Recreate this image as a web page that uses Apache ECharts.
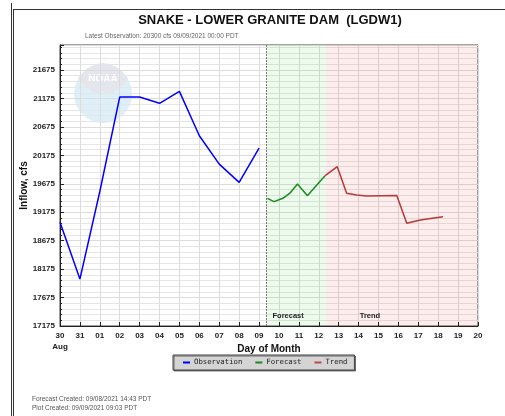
<!DOCTYPE html>
<html>
<head>
<meta charset="utf-8">
<script src="https://cdn.jsdelivr.net/npm/echarts@6/dist/echarts.min.js"></script>
<style>html,body{margin:0;padding:0;background:#fff;}#c{width:505px;height:416px;}</style>
</head>
<body>
<div id="c"></div>
<script>
// ---- data (x = days since 30 Aug 00:00) ----
const dayLabels = ['30','31','01','02','03','04','05','06','07','08','09','10','11','12','13','14','15','16','17','18','19','20'];
const yTickMin = 17175, yTickStep = 500, yMax = 22115;
const obsX = [0,1,2,3,4,5,6,7,8,9,10];
const obsY = [19000,18000,19540,21200,21200,21090,21300,20520,20020,19700,20300];
const fcstX = [10.42,10.75,11.2,11.55,11.93,12.43,12.9,13.32];
const fcstY = [19420,19361,19420,19510,19670,19466,19654,19818];
const trendX = [13.32,13.93,14.4,14.9,15.4,16.92,17.42,18.1,19.24];
const trendY = [19818,19976,19508,19478,19460,19470,18980,19040,19097];
const forecastStart = 10.375, trendStart = 13.35, axisEnd = 21;

const zip = (xs, ys) => xs.map((x, i) => [x, ys[i]]);
const chart = echarts.init(document.getElementById('c'), null, {renderer: 'canvas'});
const F = 'Liberation Sans, Arial, sans-serif';
chart.setOption({
  animation: false,
  backgroundColor: '#fff',
  title: [
    {text: 'SNAKE - LOWER GRANITE DAM  (LGDW1)', left: 265, top: 9, textAlign: 'center',
     textStyle: {fontFamily: F, fontSize: 13, fontWeight: 'bold', color: '#111'}},
    {text: 'Latest Observation: 20300 cfs 09/09/2021 00:00 PDT', left: 85, top: 33, padding: 0,
     textStyle: {fontFamily: F, fontSize: 6.5, fontWeight: 'normal', color: '#666'}},
    {text: 'Forecast Created: 09/08/2021 14:43 PDT\nPlot Created: 09/09/2021 09:03 PDT', left: 32, top: 395, padding: 0,
     textStyle: {fontFamily: F, fontSize: 6.5, fontWeight: 'normal', color: '#555', lineHeight: 9}}
  ],
  grid: {left: 60, right: 27, top: 45, bottom: 90, show: true, borderColor: '#444', borderWidth: 1, backgroundColor: 'transparent'},
  graphic: [
    {type: 'line', shape: {x1: 11.5, y1: 3, x2: 11.5, y2: 416}, style: {stroke: '#333', lineWidth: 1}, silent: true},
    {type: 'line', shape: {x1: 13.5, y1: 9, x2: 13.5, y2: 416}, style: {stroke: '#333', lineWidth: 1}, silent: true},
    {type: 'line', shape: {x1: 13.5, y1: 9.5, x2: 505, y2: 9.5}, style: {stroke: '#333', lineWidth: 1}, silent: true},
    {type: 'circle', shape: {cx: 103, cy: 94, r: 29}, style: {fill: '#ddf0f9'}, silent: true, z: 0},
    {type: 'polygon', shape: {points: [[78,78],[86,69],[96,64],[103,63],[110,64],[120,69],[128,78],[122,86],[114,92],[108,94],[103,91],[98,94],[92,92],[84,86]]},
     style: {fill: '#e4e6ee'}, silent: true, z: 0},
    {type: 'text', style: {text: 'NOAA', x: 103, y: 74, fill: '#ffffff', font: 'bold 10px Liberation Sans', textAlign: 'center'}, silent: true, z: 0}
  ],
  legend: {
    data: ['Observation', 'Forecast', 'Trend'], left: 173, top: 355, orient: 'horizontal',
    icon: 'rect', itemWidth: 7, itemHeight: 2, itemGap: 13,
    backgroundColor: '#d4d4d4', borderColor: '#444', borderWidth: 1, padding: [4, 7, 4, 10],
    shadowColor: 'rgba(0,0,0,0.5)', shadowOffsetX: 1, shadowOffsetY: 1,
    textStyle: {fontFamily: 'DejaVu Sans Mono, monospace', fontSize: 7.3, color: '#222', padding: [0, 0, 0, -1]}
  },
  xAxis: {
    type: 'value', min: 0, max: axisEnd, interval: 1,
    name: 'Day of Month', nameLocation: 'middle', nameGap: 18, nameMoveOverlap: false,
    nameTextStyle: {fontFamily: F, fontSize: 10, fontWeight: 'bold', color: '#111'},
    axisLine: {show: true, lineStyle: {color: '#222'}},
    axisTick: {show: true, inside: true, length: 4, lineStyle: {color: '#222'}},
    axisLabel: {fontFamily: F, fontSize: 8, fontWeight: 'bold', color: '#222', margin: 4, lineHeight: 11,
      formatter: v => { const i = Math.round(v); return i === 0 ? dayLabels[0] + '\nAug' : (dayLabels[i] || ''); }},
    splitLine: {show: true, lineStyle: {color: '#dcdcdc'}}
  },
  yAxis: {
    type: 'value', min: yTickMin, max: yMax, interval: yTickStep,
    name: 'Inflow, cfs', nameLocation: 'middle', nameGap: 31, nameMoveOverlap: false,
    nameTextStyle: {fontFamily: F, fontSize: 10, fontWeight: 'bold', color: '#111'},
    axisLine: {show: true, lineStyle: {color: '#222'}},
    axisTick: {show: true, inside: true, length: 4, lineStyle: {color: '#222'}},
    minorTick: {show: true, splitNumber: 5, length: 2, lineStyle: {color: '#222'}},
    axisLabel: {fontFamily: F, fontSize: 8, fontWeight: 'bold', color: '#222', margin: 5, showMaxLabel: false,
      formatter: v => (v - yTickMin) % yTickStep === 0 ? String(v) : ''},
    splitLine: {show: true, lineStyle: {color: '#dcdcdc'}},
    minorSplitLine: {show: true, lineStyle: {color: '#e6e6e6'}}
  },
  series: [
    {name: 'Observation', type: 'line', data: zip(obsX, obsY), showSymbol: false, symbol: 'none', z: 5,
     lineStyle: {color: '#0000ff', width: 1.5}, itemStyle: {color: '#0000ff'},
     markArea: {silent: true, data: [
       [{xAxis: forecastStart, itemStyle: {color: 'rgba(0,200,0,0.07)'},
         label: {show: true, position: 'insideBottomLeft', distance: 0, offset: [6, -6], formatter: 'Forecast',
                 fontFamily: F, fontSize: 7.5, fontWeight: 'bold', color: '#222'}}, {xAxis: trendStart}],
       [{xAxis: trendStart, itemStyle: {color: 'rgba(235,0,0,0.07)'},
         label: {show: true, position: 'insideBottomLeft', distance: 0, offset: [34, -6], formatter: 'Trend',
                 fontFamily: F, fontSize: 7.5, fontWeight: 'bold', color: '#222'}}, {xAxis: axisEnd}]
     ]},
     markLine: {silent: true, symbol: 'none', label: {show: false},
       lineStyle: {color: '#777', type: [2, 1], width: 1}, data: [{xAxis: forecastStart}]}},
    {name: 'Forecast', type: 'line', data: zip(fcstX, fcstY), showSymbol: false, symbol: 'none', z: 5,
     lineStyle: {color: '#1b8c1b', width: 1.5}, itemStyle: {color: '#1b8c1b'}},
    {name: 'Trend', type: 'line', data: zip(trendX, trendY), showSymbol: false, symbol: 'none', z: 5,
     lineStyle: {color: '#b83838', width: 1.5}, itemStyle: {color: '#c04848'}}
  ]
});
</script>
</body>
</html>
